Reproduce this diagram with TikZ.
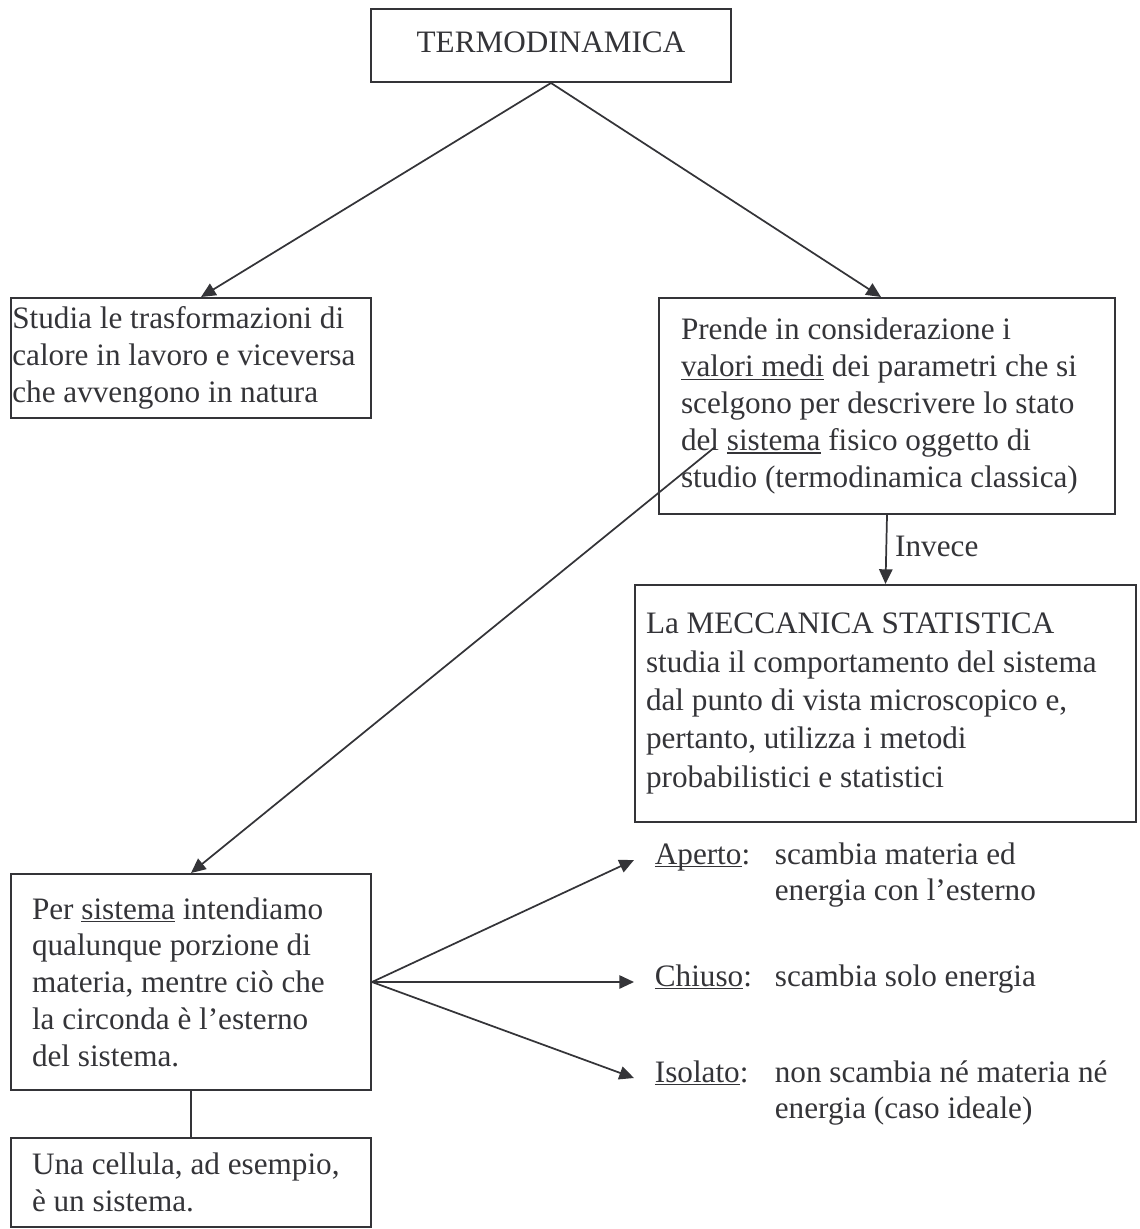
\documentclass[tikz,border=0pt]{standalone}
\usepackage{fontspec}
\setmainfont{Liberation Serif}
\usepackage{tikz}
\usetikzlibrary{arrows.meta}
\definecolor{inchiostro}{RGB}{52,52,56}
\newcommand{\sottolinea}[1]{\leavevmode\setbox0\hbox{#1}\rlap{\rule[-1.3pt]{\wd0}{0.5pt}}\box0{}}

\begin{document}
\begin{tikzpicture}[x=0.375pt,y=-0.375pt,inchiostro,line width=0.65pt,
  every node/.style={font=\fontsize{11.7pt}{13.8pt}\selectfont,text=inchiostro},
  casella/.style={draw,line width=0.75pt,anchor=north west,align=flush left,inner sep=0pt},
  rientro/.style={execute at begin node={\leftskip=#1}},
  freccia/.style={-{Triangle[length=5.5pt,width=5pt]}}]
\useasboundingbox (0,0) rectangle (1139,1229);
\node[casella,align=center,minimum width=135pt,minimum height=27.375pt,text height=8pt,text depth=3pt] (termo) at (370,8) {TERMODINAMICA};
\node[casella,text width=135pt,minimum height=45pt,rientro=0.5pt] (studia) at (10,297)
  {Studia le trasformazioni di\\calore in lavoro e viceversa\\che avvengono in natura};
\node[casella,text width=171pt,minimum height=81pt,rientro=8.25pt] (prende) at (658,297)
  {Prende in considerazione i\\\sottolinea{valori medi} dei parametri che si\\scelgono per descrivere lo stato\\del \sottolinea{sistema} fisico oggetto di\\studio (termodinamica classica)};
\node[casella,text width=187.875pt,minimum height=88.875pt,rientro=4.125pt,
  font=\fontsize{11.7pt}{14.4pt}\selectfont] (mecc) at (634,584)
  {La MECCANICA STATISTICA\\studia il comportamento del sistema\\dal punto di vista microscopico e,\\pertanto, utilizza i metodi\\probabilistici e statistici};
\node[casella,text width=135pt,minimum height=81pt,rientro=7.875pt] (per) at (10,873)
  {Per \sottolinea{sistema} intendiamo\\qualunque porzione di\\materia, mentre ciò che\\la circonda è l’esterno\\del sistema.};
\node[casella,text width=135pt,minimum height=33.375pt,rientro=7.875pt] (una) at (10,1137)
  {Una cellula, ad esempio,\\è un sistema.};
\coordinate (sisword) at (715,447);

\draw[freccia] (termo.south) -- ([xshift=3.75pt]studia.north);
\draw[freccia] (termo.south) -- ([xshift=-2.25pt]prende.north);
\draw[freccia] (prende.south) -- node[right,pos=0.45,inner sep=3pt] {Invece} (mecc.north);
\draw[freccia] (sisword) -- (per.north);
\draw (per.south) -- (una.north);
\foreach \tipo/\y/\testo in {Aperto/864/{scambia materia ed\\energia con l’esterno},
    Chiuso/986/{scambia solo energia},
    Isolato/1082/{non scambia né materia né\\energia (caso ideale)}}
{
  \node[anchor=base west,inner xsep=7.5pt,inner ysep=0pt] (\tipo) at (634,\y)
    {\makebox[45pt][l]{\sottolinea{\tipo}:}\begin{tabular}[t]{@{}l@{}}\testo\end{tabular}};
  \draw[freccia] (per.east) -- ([yshift=1.5pt]\tipo.base west);
}
\end{tikzpicture}
\end{document}
